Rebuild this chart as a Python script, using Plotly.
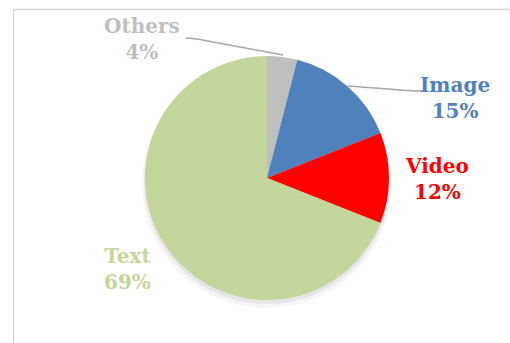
import plotly.graph_objects as go

labels = ["Others", "Image", "Video", "Text"]
values = [4, 15, 12, 69]
colors = ["#BFBFBF", "#4F81BD", "#FF0000", "#C3D69B"]
pct_text = ["4%", "15%", "12%", "69%"]

W, H = 510, 343
cx, cy, r = 267, 178, 122

def px(x):
    return x / W

def py(y):
    return 1 - y / H

fig = go.Figure()

# soft shadow
for grow, dy, a in [(3, 5, 0.04), (1, 3, 0.06)]:
    fig.add_trace(go.Pie(
        values=[1], marker=dict(colors=[f"rgba(0,0,0,{a})"], line=dict(width=0)),
        domain=dict(x=[px(cx - r - grow), px(cx + r + grow)],
                    y=[py(cy + r + grow + dy), py(cy - r - grow + dy)]),
        textinfo="none", hoverinfo="skip", showlegend=False, sort=False,
    ))

fig.add_trace(go.Pie(
    labels=labels, values=values, sort=False, direction="clockwise", rotation=0,
    marker=dict(colors=colors, line=dict(width=0)),
    domain=dict(x=[px(cx - r), px(cx + r)], y=[py(cy + r), py(cy - r)]),
    textinfo="none", showlegend=False,
))

label_pos = {"Others": (142, 39), "Image": (455, 98), "Video": (437, 179), "Text": (127, 269)}
font = dict(family="DejaVu Serif", size=20)
for lab, pct, col in zip(labels, pct_text, colors):
    x, y = label_pos[lab]
    fig.add_annotation(x=px(x), y=py(y), xref="paper", yref="paper",
                       text=f"<b>{lab}</b><br><b>{pct}</b>", showarrow=False,
                       font=dict(color=col, **font), align="center",
                       xanchor="center", yanchor="middle")

# leader lines
line_style = dict(color="#A6A6A6", width=1.5)
fig.add_shape(type="path", xref="paper", yref="paper",
              path=f"M {px(186)} {py(38)} L {px(197)} {py(39)} L {px(283)} {py(55)}",
              line=line_style)
fig.add_shape(type="path", xref="paper", yref="paper",
              path=f"M {px(348)} {py(86)} L {px(415)} {py(91)} L {px(424)} {py(91)}",
              line=line_style)

# chart frame
fig.add_shape(type="rect", xref="paper", yref="paper",
              x0=px(13.5), y0=py(360), x1=px(530), y1=py(9.5),
              line=dict(color="#D9D9D9", width=1.5))

fig.update_layout(width=W, height=H, margin=dict(l=0, r=0, t=0, b=0),
                  paper_bgcolor="white", plot_bgcolor="white")
fig.write_html("out.html")
